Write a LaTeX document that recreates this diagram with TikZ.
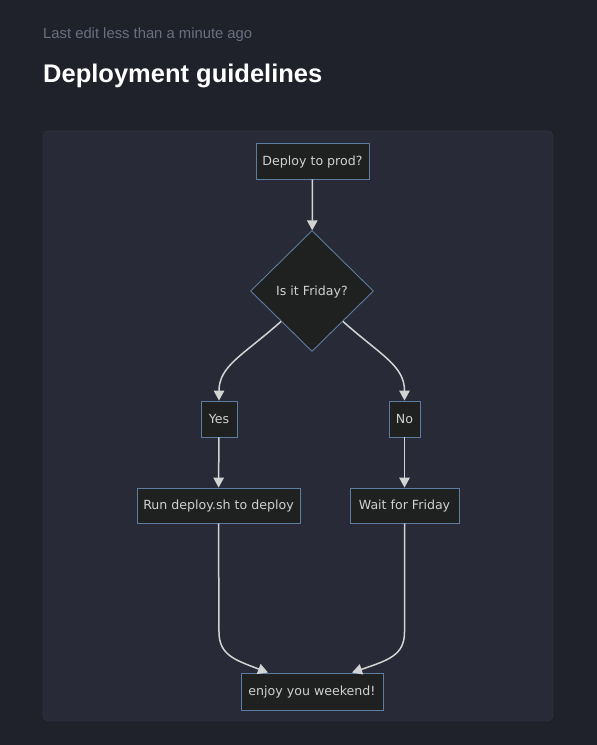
\documentclass[tikz,border=0pt]{standalone}
\usepackage{fontspec}
\setmainfont{Liberation Sans}
\newfontfamily\nodefont{DejaVu Sans}
\usetikzlibrary{shapes.geometric,arrows.meta,calc}
\definecolor{bgc}{HTML}{1F212B}
\definecolor{panelc}{HTML}{282B37}
\definecolor{panelb}{HTML}{2E313D}
\definecolor{nodefill}{HTML}{1F2020}
\definecolor{nodeborder}{HTML}{5C7CA0}
\definecolor{edgec}{HTML}{D3D3D3}
\definecolor{txtc}{HTML}{D0D0D0}
\definecolor{subc}{HTML}{6B7080}
\tikzset{
  box/.style={draw=nodeborder, fill=nodefill, line width=0.9pt, text=txtc,
    font=\nodefont\fontsize{12.6}{14}\selectfont, inner sep=0pt, minimum height=36pt,
    text height=9.5pt, text depth=0.8pt},
  dia/.style={diamond, draw=nodeborder, fill=nodefill, line width=0.9pt, text=txtc,
    font=\nodefont\fontsize{12.6}{14}\selectfont, inner sep=0pt, minimum width=123pt, minimum height=121pt,
    text height=9.5pt, text depth=0.8pt},
  edge/.style={draw=edgec, line width=1.5pt, -{Triangle[length=10pt,width=10.5pt]}},
}
\begin{document}
\begin{tikzpicture}[x=1pt,y=-1pt]
\useasboundingbox (0,0) rectangle (597,745);
\fill[bgc] (0,0) rectangle (597,745);
\filldraw[fill=panelc, draw=panelb, line width=0.8pt, rounded corners=5pt] (43,131) rectangle (553,721);
\node[anchor=base west, inner sep=0pt, text=subc, font=\fontsize{14.8}{17}\selectfont] (sub) at (43,38.5) {Last edit less than a minute ago};
\node[anchor=base west, inner sep=0pt, text=white, font=\bfseries\fontsize{25.5}{30}\selectfont] (title) at (43,82) {Deployment guidelines};

\node[box, minimum width=113pt] (a) at (312.5,161) {Deploy to prod?};
\node[dia] (b) at (312,291) {Is it Friday?};
\node[box, minimum width=36pt] (y) at (219,419) {Yes};
\node[box, minimum width=31pt] (n) at (404.5,419) {No};
\node[box, minimum width=163pt, minimum height=35pt] (r) at (218.5,505.5) {Run deploy.sh to deploy};
\node[box, minimum width=109pt, minimum height=35pt] (w) at (404.5,505.5) {Wait for Friday};
\node[box, minimum width=142pt, minimum height=37pt] (e) at (312,691.5) {enjoy you weekend!};

\draw[edge] (a) -- (b);
\draw[edge] (b.south west) .. controls (242,356) and (219,366) .. (y.north);
\draw[edge] (b.south east) .. controls (382,356) and (404.5,366) .. (n.north);
\draw[edge] (y) -- (r);
\draw[edge] (n) -- (w);
\draw[edge] (r.south) -- (219,632) .. controls (219,655) and (235,660) .. ([xshift=-44pt]e.north);
\draw[edge] (w.south) -- (404.5,632) .. controls (404.5,655) and (389,660) .. ([xshift=40pt]e.north);
\end{tikzpicture}
\end{document}
